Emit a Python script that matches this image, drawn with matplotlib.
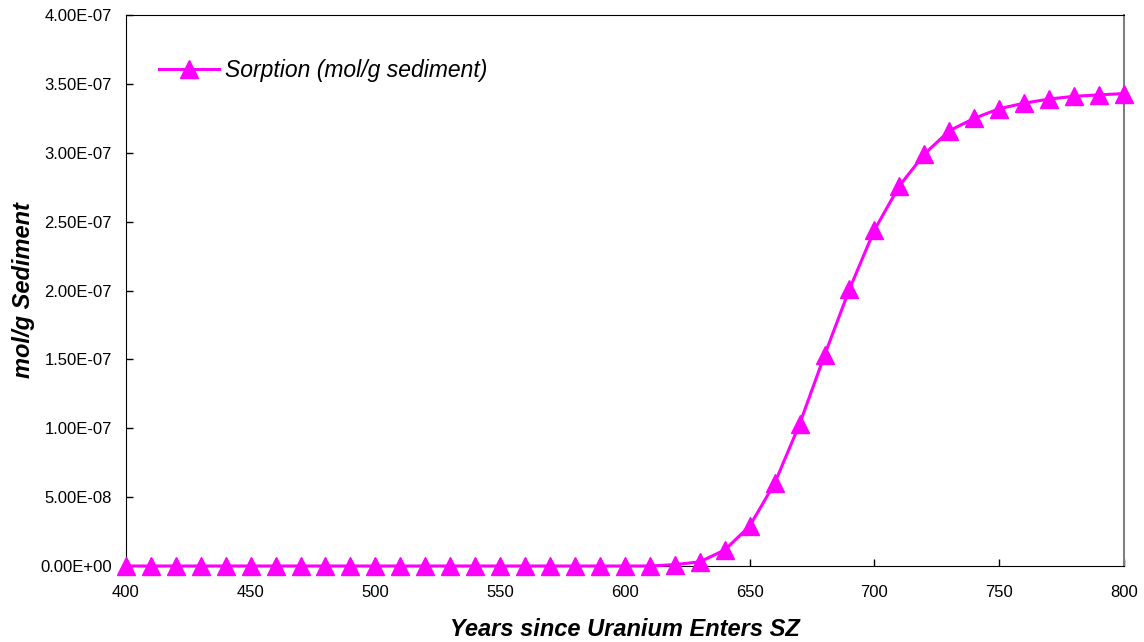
import numpy as np
import matplotlib.pyplot as plt

plt.rcParams['font.family'] = ['Liberation Sans', 'DejaVu Sans']

years = list(range(400, 801, 10))
sorption = [0.0] * 22 + [
    1.0e-9, 3.0e-9, 1.16e-8, 2.9e-8, 6.0e-8, 1.03e-7, 1.53e-7, 2.01e-7,
    2.44e-7, 2.76e-7, 2.99e-7, 3.16e-7, 3.25e-7, 3.32e-7, 3.36e-7,
    3.39e-7, 3.41e-7, 3.42e-7, 3.43e-7,
]
y_ticks = np.arange(0, 4.01e-7, 5e-8)
y_labels = ['%.2E' % v for v in y_ticks]

fig = plt.figure(figsize=(11.44, 6.42), dpi=100)
ax = fig.add_axes([0.110, 0.1184, 0.8725, 0.8582])

ax.plot(years, sorption, color='#FF00FF', lw=2.2, marker='^', ms=12.5,
        clip_on=False, zorder=3, label='Sorption (mol/g sediment)')

ax.set_xlim(400, 800)
ax.set_ylim(0, 4e-7)
ax.set_xticks(range(400, 801, 50))
ax.set_yticks(y_ticks)
ax.set_yticklabels(y_labels)
ax.tick_params(direction='in', length=5, width=1, labelsize=12)
ax.tick_params(axis='x', pad=14)
ax.tick_params(axis='y', pad=10)

for side in ['left', 'bottom', 'top']:
    ax.spines[side].set_color('black')
ax.spines['right'].set_color('#808080')
ax.spines['right'].set_linewidth(1.5)

ax.set_xlabel('Years since Uranium Enters SZ', fontsize=17, fontweight='bold',
              fontstyle='italic', labelpad=13)
ax.set_ylabel('mol/g Sediment', fontsize=17, fontweight='bold',
              fontstyle='italic', labelpad=4)

leg = ax.legend(loc='upper left', bbox_to_anchor=(0.013, 0.958), frameon=False,
                prop={'size': 16.5, 'style': 'italic'}, handlelength=2.6,
                handletextpad=0.25)

fig.savefig('out.png', dpi=100)
